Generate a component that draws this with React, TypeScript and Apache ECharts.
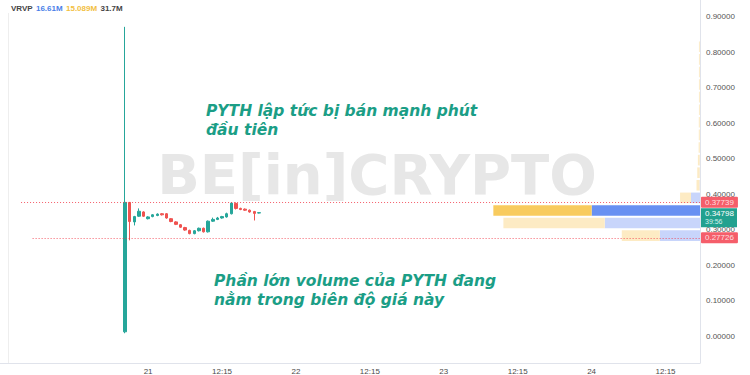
import React, { useEffect, useRef } from "react";
import * as echarts from "echarts";

// ---- Candles (x = candle index, 1-minute bars) ----
const candleIdx = [0, 1, 2, 3, 4, 5, 6, 7, 8, 9, 10, 11, 12, 13, 14, 15, 16, 17, 18, 19, 20, 21, 22, 23, 24, 25, 26, 27, 28, 29];
const opens = [0.012, 0.377, 0.322, 0.338, 0.350, 0.331, 0.337, 0.340, 0.345, 0.345, 0.331, 0.322, 0.314, 0.306, 0.298, 0.289, 0.297, 0.304, 0.294, 0.324, 0.329, 0.333, 0.336, 0.345, 0.374, 0.360, 0.358, 0.355, 0.351, 0.347];
const closes = [0.377, 0.323, 0.337, 0.352, 0.338, 0.336, 0.342, 0.344, 0.342, 0.333, 0.323, 0.315, 0.307, 0.299, 0.289, 0.297, 0.304, 0.294, 0.324, 0.329, 0.333, 0.337, 0.345, 0.375, 0.360, 0.357, 0.355, 0.350, 0.346, 0.348];
const lows = [0.008, 0.270, 0.312, 0.336, 0.336, 0.329, 0.335, 0.338, 0.340, 0.331, 0.321, 0.313, 0.305, 0.297, 0.287, 0.287, 0.295, 0.292, 0.292, 0.322, 0.327, 0.331, 0.334, 0.343, 0.357, 0.355, 0.353, 0.348, 0.326, 0.346];
const highs = [0.872, 0.378, 0.339, 0.360, 0.352, 0.338, 0.344, 0.346, 0.347, 0.347, 0.333, 0.324, 0.316, 0.308, 0.300, 0.299, 0.306, 0.306, 0.326, 0.334, 0.336, 0.339, 0.348, 0.377, 0.377, 0.362, 0.360, 0.357, 0.353, 0.349];

// ---- Axes ----
const timeTickPos = [5, 21, 37, 53, 69, 85, 101, 117];
const timeTickLabels = ["21", "12:15", "22", "12:15", "23", "12:15", "24", "12:15"];
const priceTicks = [0, 0.1, 0.2, 0.3, 0.4, 0.5, 0.6, 0.7, 0.8, 0.9];

// ---- Horizontal levels ----
const levelPrices = [0.37739, 0.27726];
const levelStart = [-22.5, -20.0];
const currentPrice = 0.34798;
const countdown = "39:56";

// ---- Volume profile (VRVP), volumes in millions ----
const vpLow = [0.2655, 0.301, 0.3365, 0.372, 0.4075, 0.443, 0.4785, 0.514, 0.5495, 0.585, 0.6205, 0.656, 0.6915, 0.727, 0.7625, 0.798];
const vpHigh = [0.301, 0.3365, 0.372, 0.4075, 0.443, 0.4785, 0.514, 0.5495, 0.585, 0.6205, 0.656, 0.6915, 0.727, 0.7625, 0.798, 0.8335];
const vpUp = [2.64, 6.26, 7.12, 0.59, 0.03, 0.02, 0.02, 0.01, 0.01, 0.01, 0.01, 0.01, 0.01, 0.01, 0.01, 0.01];
const vpDown = [2.50, 6.66, 6.46, 0.72, 0.2, 0.16, 0.12, 0.08, 0.07, 0.07, 0.06, 0.06, 0.06, 0.06, 0.06, 0.06];
const vpPocIndex = 2;
const vrvpHeader = ["VRVP", "16.61M", "15.089M", "31.7M"];

// ---- Annotations ----
const note1 = ["PYTH lập tức bị bán mạnh phút", "đầu tiên"];
const note2 = ["Phần lớn volume của PYTH đang", "nằm trong biên độ giá này"];
const watermark = "BE[in]CRYPTO";

const X_MIN = -27.06;
const X_MAX = 124.46;
const Y_MIN = -0.0759;
const Y_MAX = 0.9477;
const VP_MAX = 46;

const UP = "#26a69a";
const DOWN = "#ef5350";
const TEAL_TEXT = "#1b9e86";
const NOTE_FONT = "DejaVu Sans";

export default function App() {
  const ref = useRef<HTMLDivElement>(null);

  useEffect(() => {
    if (!ref.current) return;
    const chart = echarts.init(ref.current, undefined, { renderer: "svg" });

    const candleData = candleIdx.map((x, i) => [x, opens[i], closes[i], lows[i], highs[i]]);
    const vpData = vpLow.map((lo, i) => [lo, vpHigh[i], vpUp[i], vpDown[i], i === vpPocIndex ? 1 : 0]);

    const redLabel = (txt: string) => ({
      show: true,
      position: "end",
      distance: 1,
      formatter: txt,
      color: "#ffffff",
      backgroundColor: "#f23645",
      padding: [1, 4, 1, 4],
      fontSize: 8,
      lineHeight: 9,
      fontFamily: "Liberation Sans",
      borderRadius: 1,
    });

    const greenLabel = {
      show: true,
      position: "end",
      distance: 1,
      opacity: 1,
      color: "#ffffff",
      formatter: `{e| }\n{a|${currentPrice.toFixed(5)}}\n{b|${countdown}}`,
      rich: {
        e: { height: 10, lineHeight: 10, fontSize: 7 },
        a: {
          width: 28,
          height: 9,
          lineHeight: 9,
          padding: [1, 4, 0, 4],
          backgroundColor: "#22a18f",
          color: "#ffffff",
          fontSize: 8,
          fontFamily: "Liberation Sans",
        },
        b: {
          width: 28,
          height: 9,
          lineHeight: 9,
          padding: [0, 4, 1, 4],
          backgroundColor: "#22a18f",
          color: "#d3f0eb",
          fontSize: 7,
          fontFamily: "Liberation Sans",
        },
      },
    };
    const hiddenLine = { color: "rgba(0,0,0,0)", opacity: 1, width: 1, type: "solid" };

    const noteText = (lines: string[], x: number, y: number) =>
      lines.map((t, i) => ({
        type: "text",
        style: {
          x,
          y: y + i * 19,
          text: t,
          fill: TEAL_TEXT,
          fontSize: 15.5,
          fontStyle: "italic",
          fontWeight: "bold",
          fontFamily: NOTE_FONT,
          verticalAlign: "top",
        },
      }));

    const option: any = {
      animation: false,
      backgroundColor: "#ffffff",
      grid: { left: 0, right: 50, top: 0, bottom: 11, containLabel: false },
      xAxis: [
        {
          type: "value",
          min: X_MIN,
          max: X_MAX,
          axisLine: { show: true, onZero: false, lineStyle: { color: "#e0e3eb" } },
          axisTick: { show: false },
          splitLine: { show: false },
          axisLabel: {
            customValues: timeTickPos,
            formatter: (v: number) => {
              let best = 0;
              timeTickPos.forEach((p, i) => {
                if (Math.abs(p - v) < Math.abs(timeTickPos[best] - v)) best = i;
              });
              return timeTickLabels[best];
            },
            fontSize: 8,
            color: "#4a4a4a",
            margin: 4,
            fontFamily: "Liberation Sans",
          },
        },
        { type: "value", min: 0, max: VP_MAX, inverse: true, show: false },
      ],
      yAxis: {
        type: "value",
        position: "right",
        min: Y_MIN,
        max: Y_MAX,
        axisLine: { show: true, onZero: false, lineStyle: { color: "#e0e3eb" } },
        axisTick: { show: false },
        splitLine: { show: false },
        axisLabel: {
          customValues: priceTicks,
          formatter: (v: number) => v.toFixed(5),
          fontSize: 8,
          color: "#555555",
          margin: 6,
          fontFamily: "Liberation Sans",
        },
      },
      graphic: [
        {
          type: "text",
          z: -10,
          style: {
            text: watermark,
            x: 377,
            y: 174,
            align: "center",
            verticalAlign: "middle",
            fontSize: 56,
            fontWeight: "bold",
            fontFamily: "DejaVu Sans",
            fill: "#e7e7e7",
          },
        },
        {
          type: "line",
          shape: { x1: 8.5, y1: 13, x2: 8.5, y2: 364 },
          style: { stroke: "#eeeeee", lineWidth: 1 },
        },
        {
          type: "text",
          style: {
            x: 11,
            y: 8,
            verticalAlign: "middle",
            text: `{a|${vrvpHeader[0]}} {b|${vrvpHeader[1]}} {c|${vrvpHeader[2]}} {a|${vrvpHeader[3]}}`,
            rich: {
              a: { fill: "#444444", fontSize: 8, fontWeight: 700, fontFamily: "Liberation Sans" },
              b: { fill: "#4a7fe8", fontSize: 8, fontWeight: 700, fontFamily: "Liberation Sans" },
              c: { fill: "#f2c03f", fontSize: 8, fontWeight: 700, fontFamily: "Liberation Sans" },
            },
          },
        },
        ...noteText(note1, 206, 103),
        ...noteText(note2, 214, 273),
      ],
      series: [
        {
          type: "custom",
          name: "VRVP",
          xAxisIndex: 1,
          yAxisIndex: 0,
          data: vpData,
          encode: { x: [2, 3], y: [0, 1] },
          renderItem: (params: any, api: any) => {
            const lo = api.value(0);
            const hi = api.value(1);
            const up = api.value(2);
            const dn = api.value(3);
            const poc = api.value(4) === 1;
            const pRight = api.coord([0, lo]);
            const pUp = api.coord([up, hi]);
            const pDn = api.coord([up + dn, hi]);
            const top = pUp[1] + 1;
            const h = Math.max(1, pRight[1] - pUp[1] - 2);
            return {
              type: "group",
              children: [
                {
                  type: "rect",
                  shape: { x: pUp[0], y: top, width: pRight[0] - pUp[0], height: h },
                  style: { fill: poc ? "#6890f2" : "#c8d5fb" },
                },
                {
                  type: "rect",
                  shape: { x: pDn[0], y: top, width: pUp[0] - pDn[0], height: h },
                  style: { fill: poc ? "#f8cb5e" : "#fdebc4" },
                },
              ],
            };
          },
        },
        {
          type: "candlestick",
          name: "PYTHUSDT",
          xAxisIndex: 0,
          yAxisIndex: 0,
          data: candleData,
          encode: { x: 0, y: [1, 2, 3, 4] },
          barWidth: 3,
          itemStyle: {
            color: UP,
            color0: DOWN,
            borderColor: UP,
            borderColor0: DOWN,
            borderWidth: 1,
          },
          markLine: {
            silent: true,
            symbol: ["none", "none"],
            lineStyle: { color: "#f23645", type: [1, 2], width: 1, opacity: 0.8 },
            data: [
              ...levelPrices.map((p, i) => [
                { coord: [levelStart[i], p], label: redLabel(p.toFixed(5)) },
                { coord: [X_MAX, p], label: redLabel(p.toFixed(5)) },
              ]),
              [
                { coord: [X_MIN, currentPrice], lineStyle: hiddenLine, label: greenLabel },
                { coord: [X_MAX, currentPrice], lineStyle: hiddenLine, label: greenLabel },
              ],
            ],
          },
        },
      ],
    };

    chart.setOption(option);
    return () => chart.dispose();
  }, []);

  return (
    <div
      ref={ref}
      style={{ position: "fixed", left: 0, top: 0, width: 750, height: 375, background: "#fff" }}
    />
  );
}
